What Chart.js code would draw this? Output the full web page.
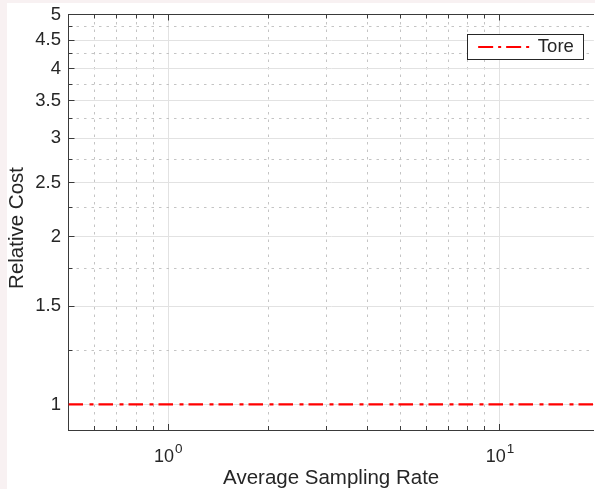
<!DOCTYPE html>
<html>
<head>
<meta charset="utf-8">
<title>Relative Cost vs Average Sampling Rate</title>
<script src="https://cdn.jsdelivr.net/npm/chart.js@4.4.1/dist/chart.umd.min.js"></script>
<style>
  html, body { margin: 0; padding: 0; background: #f8f1f2; overflow: hidden; }
  #wrap { position: absolute; left: 7px; top: 3px; width: 588px; height: 486px; background: #fff; }
</style>
</head>
<body>
<div id="wrap"><canvas id="c"></canvas></div>
<script>
/* ---- data ---- */
var samplingRate = [0.5, 1, 2, 5, 10, 20];
var toreCost     = [1, 1, 1, 1, 1, 1];

/* ---- axes ---- */
var xRange      = [0.5, 19.2];
var yRange      = [0.9, 5];
var xMajorTicks = [1, 10];
var xMinorTicks = [0.6, 0.7, 0.8, 0.9, 2, 3, 4, 5, 6, 7, 8, 9];
var yMajorTicks = [1, 1.5, 2, 2.5, 3, 3.5, 4, 4.5, 5];
var yMinorTicks = [1.25, 1.75, 2.25, 2.75, 3.25, 3.75, 4.25, 4.75];

var AXIS = "#3a3a3a";
var TEXT = "#262626";
var MAJOR_GRID = "#e2e2e2";
var MINOR_GRID = "#c4c4c4";
var FONT = "'Liberation Sans', Arial, Helvetica, sans-serif";

/* ---- helpers ---- */
function fixTicks(list) {
  return function (scale) { scale.ticks = list.map(function (v) { return { value: v }; }); };
}
// fixed box size; padding zeroed so the tick-label padding does not push the plot area in
function fixWidth(w) { return function (s) { s.width = w; s.paddingTop = 0; s.paddingBottom = 0; }; }
function fixHeight(h) { return function (s) { s.height = h; s.paddingLeft = 0; s.paddingRight = 0; }; }

// log axis; "minor" variants carry dotted grid and short inward ticks, no labels
function logAxis(pos, range, ticks, minor, extra) {
  var o = {
    type: "logarithmic",
    position: pos,
    min: range[0],
    max: range[1],
    bounds: "data",
    weight: minor ? -1 : 0,
    afterBuildTicks: fixTicks(ticks),
    ticks: { display: false, autoSkip: false },
    grid: {
      color: minor ? MINOR_GRID : MAJOR_GRID,
      lineWidth: 1,
      tickLength: minor ? -4 : -6,
      tickColor: AXIS,
      tickWidth: 1
    },
    border: minor ? { display: false, dash: [2.5, 5] } : { color: AXIS, width: 1 }
  };
  for (var k in extra) o[k] = extra[k];
  return o;
}

/* ---- x labels as 10^n with superscript ---- */
var powerLabels = {
  id: "powerLabels",
  afterDraw: function (chart) {
    var sc = chart.scales.x, ctx = chart.ctx;
    ctx.save();
    ctx.fillStyle = TEXT;
    ctx.textBaseline = "alphabetic";
    ctx.textAlign = "left";
    xMajorTicks.forEach(function (v) {
      var exp = String(Math.round(Math.log10(v)));
      var px = sc.getPixelForValue(v);
      ctx.font = "18px " + FONT;
      var w1 = ctx.measureText("10").width;
      ctx.font = "13.5px " + FONT;
      var w2 = ctx.measureText(exp).width;
      var x0 = px - (w1 + 1 + w2) / 2;
      ctx.font = "18px " + FONT;
      ctx.fillText("10", x0, sc.top + 31.7);
      ctx.font = "13.5px " + FONT;
      ctx.fillText(exp, x0 + w1 + 1, sc.top + 23.3);
    });
    ctx.restore();
  }
};

/* ---- boxed legend, top right inside the axes ---- */
var boxLegend = {
  id: "boxLegend",
  afterDraw: function (chart) {
    var a = chart.chartArea, ctx = chart.ctx;
    var ds = chart.data.datasets[0];
    var w = 116, h = 25, x = a.right - 10.7 - w, y = a.top + 19.5;
    ctx.save();
    ctx.fillStyle = "#fff";
    ctx.fillRect(x, y, w, h);
    ctx.strokeStyle = TEXT;
    ctx.lineWidth = 1;
    ctx.strokeRect(Math.round(x) + 0.5, Math.round(y) + 0.5, w, h);
    ctx.strokeStyle = ds.borderColor;
    ctx.lineWidth = 2;
    ctx.setLineDash([15, 5, 3, 5]);
    ctx.beginPath();
    ctx.moveTo(x + 11, y + 13);
    ctx.lineTo(x + 64.7, y + 13);
    ctx.stroke();
    ctx.setLineDash([]);
    ctx.fillStyle = TEXT;
    ctx.font = "18.5px " + FONT;
    ctx.textBaseline = "alphabetic";
    ctx.fillText(ds.label, x + 70.7, y + 18);
    ctx.restore();
  }
};

var topTicksOnly = { drawOnChartArea: false };

new Chart(document.getElementById("c").getContext("2d"), {
  type: "line",
  data: {
    datasets: [{
      label: "Tore",
      data: samplingRate.map(function (r, i) { return { x: r, y: toreCost[i] }; }),
      borderColor: "#ff0000",
      borderWidth: 2.3,
      borderDash: [14.5, 6.5, 4, 5],
      pointRadius: 0,
      tension: 0,
      xAxisID: "x",
      yAxisID: "y"
    }]
  },
  options: {
    responsive: true,
    maintainAspectRatio: false,
    animation: false,
    layout: { padding: { left: 0, right: 0, top: 11.5, bottom: 0 } },
    plugins: { legend: { display: false }, tooltip: { enabled: false } },
    scales: {
      x: logAxis("bottom", xRange, xMajorTicks, false, {
        afterFit: fixHeight(59),
        title: {
          display: true, text: "Average Sampling Rate", color: TEXT,
          font: { family: FONT, size: 20.5, lineHeight: 1 },
          padding: { top: 0, bottom: 0.5 }
        }
      }),
      xMinor: logAxis("bottom", xRange, xMinorTicks, true, { afterFit: fixHeight(0) }),
      xTop: logAxis("top", xRange, xMajorTicks, false, { afterFit: fixHeight(0) }),
      xTopMinor: logAxis("top", xRange, xMinorTicks, true, { afterFit: fixHeight(0) }),
      y: logAxis("left", yRange, yMajorTicks, false, {
        afterFit: fixWidth(61.5),
        ticks: {
          display: true, autoSkip: false, padding: 13.5, color: TEXT,
          font: { family: FONT, size: 18.5, lineHeight: 1 },
          callback: function (v) { return String(v); }
        },
        title: {
          // trailing spaces nudge the rotated label a little below the axis centre, as in the figure
          display: true, text: "Relative Cost  ", color: TEXT,
          font: { family: FONT, size: 20.5, lineHeight: 1 },
          padding: { top: 0, bottom: 0 }
        }
      }),
      yMinor: logAxis("left", yRange, yMinorTicks, true, { afterFit: fixWidth(0) })
    }
  },
  plugins: [powerLabels, boxLegend]
});

// top axes: tick marks only, no grid lines across the plot
(function () {
  var ch = Chart.getChart("c");
  ["xTop", "xTopMinor"].forEach(function (id) { Object.assign(ch.options.scales[id].grid, topTicksOnly); });
  ch.update("none");
})();
</script>
</body>
</html>
